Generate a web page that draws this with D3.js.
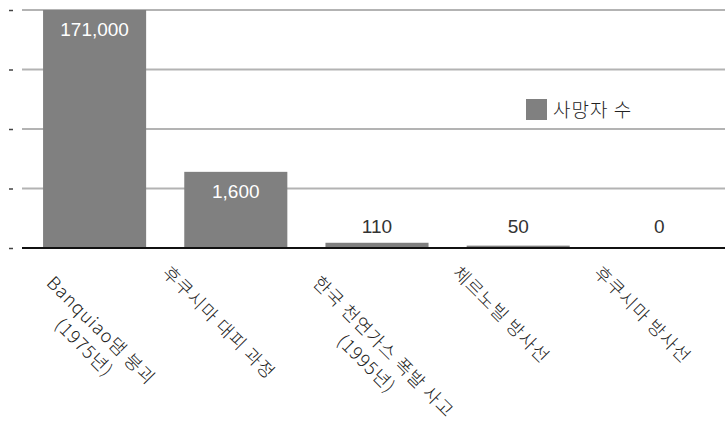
<!DOCTYPE html>
<html>
<head>
<meta charset="utf-8">
<script src="https://cdn.jsdelivr.net/npm/d3@7"></script>
<style>
  html, body { margin: 0; padding: 0; background: #fff; }
  svg { display: block; }
  .lbl { font-family: "Liberation Sans", "Noto Sans CJK KR", sans-serif; }
  .cjk { font-family: "Noto Sans CJK KR", sans-serif; font-weight: 300; }
</style>
</head>
<body>
<svg id="chart" width="725" height="423"></svg>
<script>
// Incident names (line-broken as they appear under the axis)
const categories = [
  ["Banquiao댐 붕괴", "(1975년)"],
  ["후쿠시마 대피 과정"],
  ["한국 천연가스 폭발 사고", "(1995년)"],
  ["체르노빌 방사선"],
  ["후쿠시마 방사선"]
];
// Deaths per incident
const deaths = [171000, 1600, 110, 50, 0];
// Value axis gridline positions
const yTicks = [0, 1250, 2500, 3750, 5000];
const seriesName = "사망자 수";

const W = 725, H = 423;
const svg = d3.select("#chart");
svg.append("rect").attr("width", W).attr("height", H).attr("fill", "#fff");

const plotLeft = 22, plotTop = 10, plotBottom = 248;

const x = d3.scaleBand()
  .domain(d3.range(categories.length))
  .range([24, 730])
  .paddingInner(0.27)
  .paddingOuter(0.135);

// Axis tops out at 5,000; taller bars are clipped at the plot top
const y = d3.scaleLinear().domain([0, 5000]).range([plotBottom, plotTop]).clamp(true);

// Gridlines
svg.append("g").selectAll("line").data(yTicks.filter(d => d > 0)).join("line")
  .attr("x1", plotLeft).attr("x2", W)
  .attr("y1", d => y(d)).attr("y2", d => y(d))
  .attr("stroke", "#b3b3b3").attr("stroke-width", 2);

// Small tick marks on the left edge
svg.append("g").selectAll("line").data(yTicks).join("line")
  .attr("x1", 9).attr("x2", 13)
  .attr("y1", d => y(d) + 0.5).attr("y2", d => y(d) + 0.5)
  .attr("stroke", "#444").attr("stroke-width", 1.5);

// Bars
svg.append("g").selectAll("rect").data(deaths).join("rect")
  .attr("x", (d, i) => x(i))
  .attr("width", x.bandwidth())
  .attr("y", d => y(d))
  .attr("height", d => y(0) - y(d))
  .attr("fill", "#808080");

// Baseline
svg.append("line")
  .attr("x1", plotLeft).attr("x2", W)
  .attr("y1", y(0)).attr("y2", y(0))
  .attr("stroke", "#111").attr("stroke-width", 2);

// Value labels: inside the bar top when there is room, otherwise above the axis
const fmt = d3.format(",");
svg.append("g").selectAll("text").data(deaths).join("text")
  .attr("class", "lbl")
  .attr("x", (d, i) => x(i) + x.bandwidth() / 2)
  .attr("y", d => (y(0) - y(d) > 40) ? y(d) + 26 : y(0) - 15)
  .attr("text-anchor", "middle")
  .attr("font-size", 19)
  .attr("fill", d => (y(0) - y(d) > 40) ? "#fff" : "#333")
  .text(d => fmt(d));

// Rotated category labels
const lh = 24;
const catG = svg.append("g");
categories.forEach((lines, i) => {
  const g = catG.append("g");
  const t = g.append("text")
    .attr("class", "cjk")
    .attr("font-size", 18)
    .attr("letter-spacing", 1)
    .attr("fill", "#222")
    .attr("text-anchor", "middle");
  lines.forEach((s, j) => {
    t.append("tspan")
      .attr("x", 0)
      .attr("y", (j - (lines.length - 1) / 2) * lh)
      .attr("dy", "0.35em")
      .text(s);
  });
  let L = 0;
  t.selectAll("tspan").each(function() { L = Math.max(L, this.getComputedTextLength()); });
  const n = lines.length;
  const cx = x(i) + x.bandwidth() / 2 - 17 + (n - 1) * 15;
  const cy = 261 + (n - 1) * 10 + Math.SQRT1_2 * (L / 2 + n * lh / 2);
  g.attr("transform", `translate(${cx},${cy}) rotate(45)`);
});

// Legend
const lg = svg.append("g");
lg.append("rect").attr("x", 526).attr("y", 99).attr("width", 21).attr("height", 21).attr("fill", "#808080");
lg.append("text").attr("class", "cjk")
  .attr("x", 553).attr("y", 110).attr("dy", "0.35em")
  .attr("font-size", 19).attr("letter-spacing", 1).attr("fill", "#222")
  .text(seriesName);
</script>
</body>
</html>
